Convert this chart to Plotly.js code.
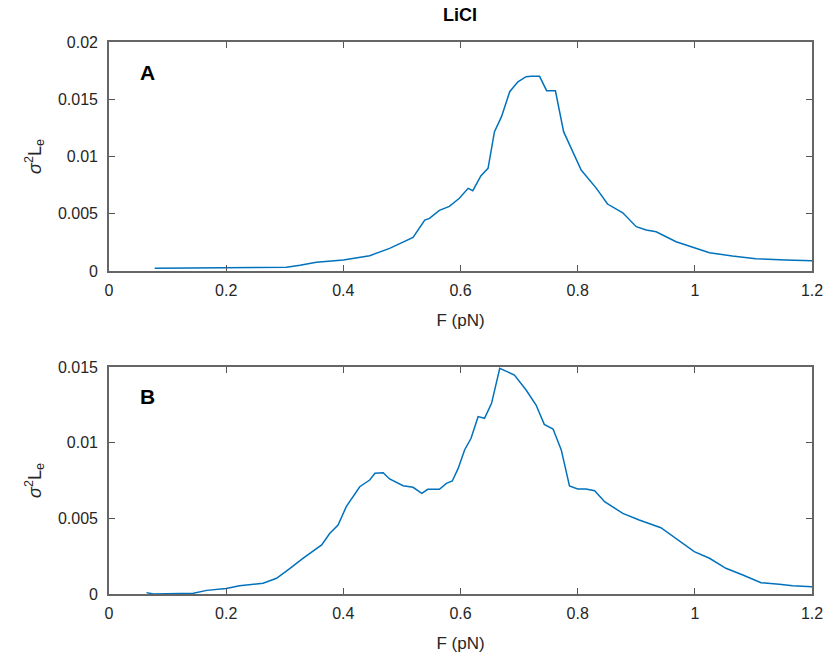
<!DOCTYPE html>
<html>
<head>
<meta charset="utf-8">
<script src="https://cdn.plot.ly/plotly-3.0.1.min.js"></script>
<style>html,body{margin:0;padding:0;background:#fff;}#chart{width:831px;height:662px;}</style>
</head>
<body>
<div id="chart"></div>
<script>
// Panel A
const forceA = [0.078,0.11,0.132,0.2,0.303,0.326,0.354,0.40,0.445,0.479,0.519,0.539,0.547,0.564,0.581,0.598,0.613,0.621,0.635,0.647,0.658,0.670,0.684,0.698,0.712,0.721,0.735,0.747,0.762,0.776,0.806,0.832,0.851,0.877,0.900,0.917,0.934,0.968,1.002,1.025,1.064,1.104,1.155,1.2];
const varA = [0.00024,0.00025,0.0002,0.00026,0.00032,0.0005,0.00076,0.00096,0.00134,0.00198,0.00294,0.00445,0.0046,0.0053,0.00565,0.00635,0.00722,0.00702,0.00833,0.00897,0.01217,0.01348,0.01566,0.01653,0.01697,0.0170,0.0170,0.01575,0.01574,0.01217,0.00882,0.00722,0.00585,0.00509,0.00387,0.00358,0.00343,0.00256,0.00198,0.0016,0.00131,0.00107,0.00096,0.0009];
// Panel B
const forceB = [0.064,0.076,0.144,0.167,0.2,0.223,0.263,0.286,0.309,0.331,0.363,0.377,0.391,0.405,0.428,0.445,0.454,0.468,0.479,0.502,0.519,0.534,0.544,0.564,0.576,0.586,0.596,0.607,0.618,0.630,0.641,0.653,0.667,0.692,0.712,0.729,0.743,0.758,0.772,0.786,0.800,0.814,0.829,0.846,0.877,0.905,0.942,0.968,0.999,1.025,1.053,1.082,1.113,1.144,1.167,1.2];
const varB = [0.00009,0.0,0.00005,0.00024,0.00037,0.00055,0.00071,0.00104,0.0017,0.00236,0.00324,0.00401,0.00456,0.00577,0.00709,0.00753,0.00798,0.00801,0.0076,0.00716,0.00705,0.00665,0.00692,0.00692,0.00731,0.00747,0.0083,0.00952,0.01029,0.01172,0.01161,0.0126,0.01491,0.01447,0.01348,0.01249,0.01121,0.0109,0.00952,0.00714,0.00694,0.00694,0.00683,0.0061,0.00533,0.00489,0.00438,0.00368,0.0028,0.00236,0.0017,0.00126,0.00075,0.00064,0.00055,0.00048];
const xTicks = [0,0.2,0.4,0.6,0.8,1,1.2];
const xTickText = ['0','0.2','0.4','0.6','0.8','1','1.2'];
const yTicksA = [0,0.005,0.01,0.015,0.02];
const yTickTextA = ['0','0.005','0.01','0.015','0.02'];
const yTicksB = [0,0.005,0.01,0.015];
const yTickTextB = ['0','0.005','0.01','0.015'];

const FONT = 'Arial, "Liberation Sans", sans-serif';
const lineStyle = {color:'#0072BD', width:1.5};
const traces = [
  {x:forceA, y:varA, type:'scatter', mode:'lines', line:lineStyle, xaxis:'x', yaxis:'y', hoverinfo:'none'},
  {x:forceB, y:varB, type:'scatter', mode:'lines', line:lineStyle, xaxis:'x2', yaxis:'y2', hoverinfo:'none'}
];
const tickFont = {family:FONT, size:16, color:'#262626'};
const axisCommon = {
  showline:true, mirror:'ticks', linecolor:'#666666', linewidth:1.8,
  ticks:'inside', ticklen:6, tickcolor:'#555555', tickwidth:1.2,
  showgrid:false, zeroline:false, tickfont:tickFont, fixedrange:true
};
const xTitle = {text:'F (pN)', font:{family:FONT, size:17, color:'#262626'}, standoff:16};
const yTitle = {text:'<i>σ</i><sup>2</sup>L<sub>e</sub>', font:{family:FONT, size:18, color:'#262626'}, standoff:12};
const layout = {
  width:831, height:662,
  margin:{l:109, r:19, t:42, b:68},
  paper_bgcolor:'#ffffff', plot_bgcolor:'#ffffff',
  showlegend:false,
  title:{text:'<b>LiCI</b>', x:0.5535, xanchor:'center', y:0.978, yanchor:'middle', font:{family:FONT, size:18, color:'#000000'}},
  xaxis:Object.assign({}, axisCommon, {domain:[0,1], range:[0,1.2], tickvals:xTicks, ticktext:xTickText, anchor:'y', title:xTitle, ticklabelstandoff:4}),
  yaxis:Object.assign({}, axisCommon, {domain:[0.5851,1], range:[0,0.02], tickvals:yTicksA, ticktext:yTickTextA, anchor:'x', title:yTitle, ticklabelstandoff:6}),
  xaxis2:Object.assign({}, axisCommon, {domain:[0,1], range:[0,1.2], tickvals:xTicks, ticktext:xTickText, anchor:'y2', title:xTitle, ticklabelstandoff:4}),
  yaxis2:Object.assign({}, axisCommon, {domain:[0,0.4112], range:[0,0.015], tickvals:yTicksB, ticktext:yTickTextB, anchor:'x2', title:yTitle, ticklabelstandoff:6}),
  annotations:[
    {text:'<b>A</b>', xref:'x', yref:'y', x:0.065, y:0.0173, showarrow:false, xanchor:'center', yanchor:'middle', font:{family:FONT, size:21, color:'#000'}},
    {text:'<b>B</b>', xref:'x2', yref:'y2', x:0.065, y:0.01305, showarrow:false, xanchor:'center', yanchor:'middle', font:{family:FONT, size:21, color:'#000'}}
  ]
};
Plotly.newPlot('chart', traces, layout, {staticPlot:true, displayModeBar:false});
</script>
</body>
</html>
